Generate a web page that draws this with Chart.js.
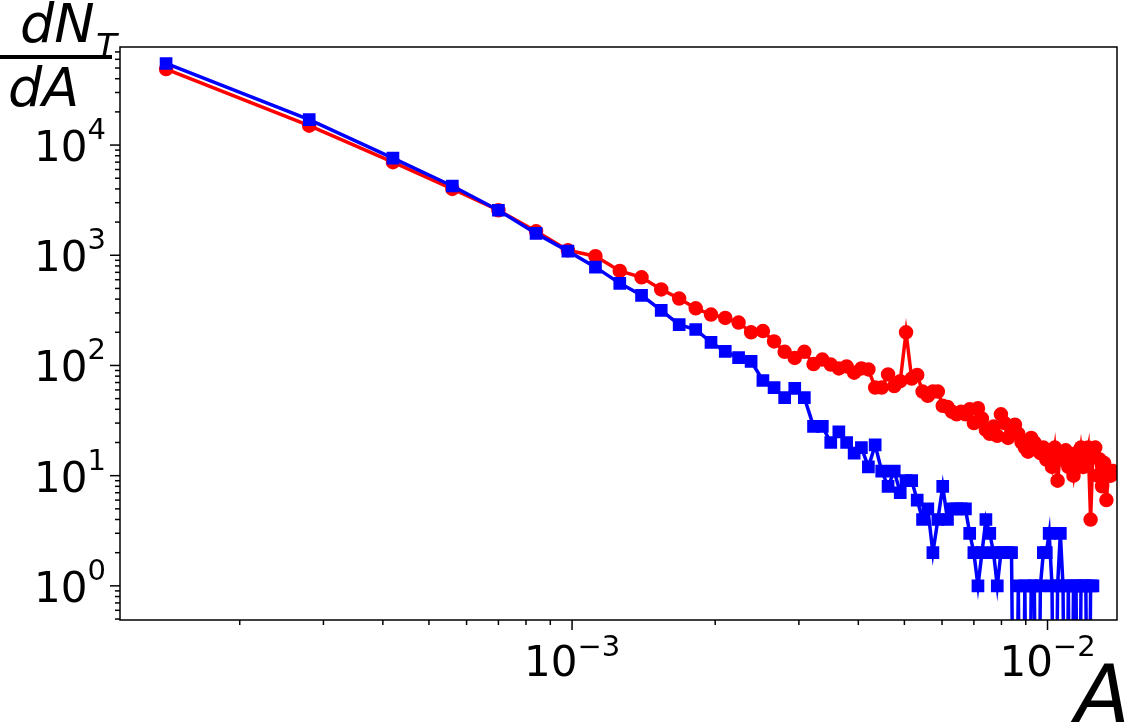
<!DOCTYPE html>
<html><head><meta charset="utf-8">
<script src="https://cdn.jsdelivr.net/npm/chart.js@4/dist/chart.umd.min.js"></script>
<style>body{margin:0;background:#fff}</style></head>
<body><canvas id="c" width="1137" height="725"></canvas>
<script>
const binWidth = 1.4e-4;
const redValues = [49000,15000,7000,4000,2560,1650,1110,980,720,630,490,405,330,290,270,245,200,205,165,133,117,133,103,113,102,94,98,86,94,92,63,63,83,65,72,200,76,82,58,53,58,58,43,42,38,36,38,36,40,30,41,33,26,24,28,23,36,30,22,25,29,24,20,18,16.5,22,20,18,16,18,14,16,12,18,9,16,14,17,12,14,10,16,12,18,12,14,18,4,16,18,10,14,8,13,6,11,10,11];
const blueValues = [55000,17000,7600,4250,2560,1580,1090,780,556,433,316,235,212,162,134,118,109,73,63,51,62,51,28,28,20,25,20,16,18,12,19,11,8,11,7,9,9,6,4,5,2,4,8,4,5,5,5,5,3,2,1,2,4,3,2,1,2,2,2,2,0,1,0,1,0,1,1,0,1,2,2,3,1,0,1,3,1,0,1,0,1,1,0,1,1,1,0,1,1];
const xTickLabels = [{v:1e-3,e:'−3'},{v:1e-2,e:'−2'}];
const yTickLabels = [{v:1,e:'0'},{v:10,e:'1'},{v:100,e:'2'},{v:1000,e:'3'},{v:10000,e:'4'}];

const toPts = arr => arr.map((v,i)=>({x:(i+1)*binWidth, y: v>0 ? v : 1e-3}));

const deco = {
  id:'deco',
  afterDraw(ch){
    const c=ch.ctx, a=ch.chartArea, xs=ch.scales.x, ys=ch.scales.y;
    c.save();
    c.strokeStyle='#000'; c.lineWidth=1.5;
    c.strokeRect(a.left,a.top,a.right-a.left,a.bottom-a.top);
    for(let k=-4;k<=-2;k++) for(let m=1;m<=9;m++){
      const v=m*Math.pow(10,k); if(v<xs.min||v>xs.max) continue;
      const p=xs.getPixelForValue(v), L=m===1?10:5;
      c.beginPath(); c.moveTo(p,a.bottom); c.lineTo(p,a.bottom+L); c.stroke();
    }
    for(let k=-1;k<=5;k++) for(let m=1;m<=9;m++){
      const v=m*Math.pow(10,k); if(v<ys.min||v>ys.max) continue;
      const p=ys.getPixelForValue(v), L=m===1?10:5;
      c.beginPath(); c.moveTo(a.left,p); c.lineTo(a.left-L,p); c.stroke();
    }
    c.fillStyle='#000';
    const F='"DejaVu Sans", sans-serif';
    xTickLabels.forEach(t=>{
      const p=xs.getPixelForValue(t.v);
      c.font='42px '+F; c.textBaseline='alphabetic'; c.textAlign='left';
      const w=c.measureText('10').width; c.font='29px '+F; const we=c.measureText(t.e).width;
      const x0=p-(w+we)/2;
      c.font='42px '+F; c.fillText('10',x0,a.bottom+56);
      c.font='29px '+F; c.fillText(t.e,x0+w,a.bottom+36);
    });
    yTickLabels.forEach(t=>{
      const p=ys.getPixelForValue(t.v);
      c.font='29px '+F; const we=c.measureText(t.e).width;
      c.font='42px '+F; const w=c.measureText('10').width;
      const x0=a.left-14-we-w;
      c.textAlign='left'; c.fillText('10',x0,p+16);
      c.font='29px '+F; c.fillText(t.e,x0+w,p-6);
    });
    c.font='italic 54px '+F; c.textAlign='left';
    c.fillText('dN',20,42);
    c.font='italic 34px '+F; c.fillText('T',96,58);
    c.fillRect(0,55,112,4);
    c.font='italic 54px '+F; c.fillText('dA',8,106);
    c.font='italic 80px '+F; c.fillText('A',1075,722);
    c.restore();
  }
};

new Chart(document.getElementById('c'),{
  type:'line',
  data:{datasets:[
    {data:toPts(blueValues),borderColor:'#0000ff',backgroundColor:'#0000ff',borderWidth:3.5,pointStyle:'rect',pointRadius:6.5,pointHoverRadius:6.5,tension:0},
    {data:toPts(redValues),borderColor:'#ff0000',backgroundColor:'#ff0000',borderWidth:3.5,pointStyle:'circle',pointRadius:5.5,pointHoverRadius:5.5,tension:0}
  ]},
  options:{
    responsive:false,animation:false,
    layout:{padding:{left:120,top:47,right:20,bottom:105}},
    plugins:{legend:{display:false},tooltip:{enabled:false}},
    scales:{
      x:{type:'logarithmic',min:1.12e-4,max:1.40e-2,display:false},
      y:{type:'logarithmic',min:0.49,max:77600,display:false}
    }
  },
  plugins:[deco]
});
</script></body></html>
